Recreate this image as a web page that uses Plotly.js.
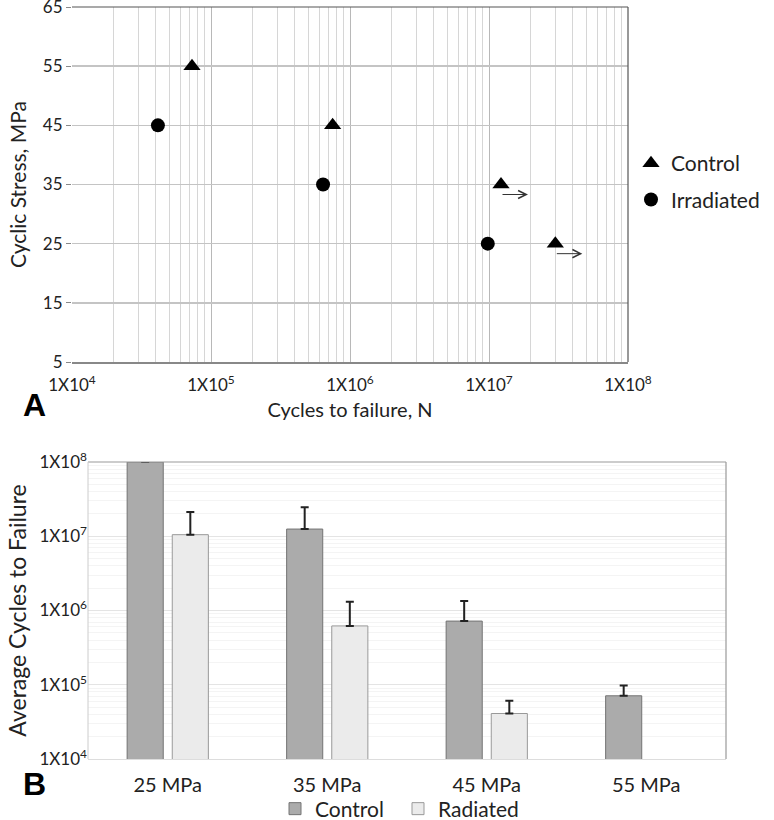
<!DOCTYPE html>
<html><head><meta charset="utf-8">
<script src="https://cdn.plot.ly/plotly-3.0.1.min.js"></script>
<style>html,body{margin:0;padding:0;background:#fff}</style>
</head><body><div id="chart" style="width:774px;height:820px"></div>
<script>
// ---- Panel A data ----
const controlCycles = [7.3e4, 7.5e5, 1.22e7, 3.0e7];
const controlStress = [55, 45, 35, 25];
const controlRunout = [false, false, true, true];
const irradCycles = [4.15e4, 6.4e5, 9.8e6];
const irradStress = [45, 35, 25];
const stressTicks = [5, 15, 25, 35, 45, 55, 65];
// ---- Panel B data ----
const stressCategories = ['25 MPa', '35 MPa', '45 MPa', '55 MPa'];
const controlAvg = [1e8, 1.25e7, 7.2e5, 7.1e4];
const controlErr = [null, 1.2e7, 6.2e5, 2.7e4];
const radiatedAvg = [1.05e7, 6.2e5, 4.1e4, null];
const radiatedErr = [1.07e7, 6.9e5, 2.0e4, null];
// ---- tick labels ----
const decadeVals = [1e4, 1e5, 1e6, 1e7, 1e8];
const decadeLabels = ['1X10<sup>4</sup>', '1X10<sup>5</sup>', '1X10<sup>6</sup>', '1X10<sup>7</sup>', '1X10<sup>8</sup>'];

const FONT = 'Lato, "Open Sans", sans-serif';
const TXT = '#222';

const traces = [
  {type: 'scatter', mode: 'markers', name: 'Control', x: controlCycles, y: controlStress,
   xaxis: 'x', yaxis: 'y', legend: 'legend', legendgroup: 'c',
   marker: {symbol: 'triangle-up', size: 15, color: '#000'}},
  {type: 'scatter', mode: 'markers', name: 'Irradiated', x: irradCycles, y: irradStress,
   xaxis: 'x', yaxis: 'y', legend: 'legend', legendgroup: 'i',
   marker: {symbol: 'circle', size: 14, color: '#000'}},
  {type: 'bar', name: 'Control', x: stressCategories, y: controlAvg,
   xaxis: 'x2', yaxis: 'y2', legend: 'legend2',
   marker: {color: '#ababab', line: {color: '#747474', width: 1}},
   error_y: {type: 'data', symmetric: false, array: controlErr, arrayminus: controlErr.map(() => 0),
             color: '#222', thickness: 2, width: 4}},
  {type: 'bar', name: 'Radiated', x: stressCategories, y: radiatedAvg,
   xaxis: 'x2', yaxis: 'y2', legend: 'legend2',
   marker: {color: '#ebebeb', line: {color: '#999', width: 1}},
   error_y: {type: 'data', symmetric: false, array: radiatedErr, arrayminus: radiatedErr.map(() => 0),
             color: '#222', thickness: 2, width: 4}}
];

const annotations = [];
controlCycles.forEach((c, i) => {
  if (controlRunout[i]) {
    annotations.push({x: Math.log10(c), y: controlStress[i], xref: 'x', yref: 'y',
      text: '', showarrow: true, ax: -27, ay: 0, axref: 'pixel', ayref: 'pixel',
      xshift: 27, yshift: -10, arrowhead: 5, arrowsize: 1.6, arrowwidth: 1, arrowcolor: '#333'});
  }
});
annotations.push({text: '<b>A</b>', xref: 'paper', yref: 'paper', x: 21 / 774, y: 1 - 405 / 820,
  showarrow: false, font: {family: '"Liberation Sans", Arial, sans-serif', size: 32, color: '#000'}});
annotations.push({text: '<b>B</b>', xref: 'paper', yref: 'paper', x: 21 / 774, y: 1 - 804 / 820,
  showarrow: false, font: {family: '"Liberation Sans", Arial, sans-serif', size: 32, color: '#000'}});

const shapes = [
  {type: 'line', xref: 'x domain', yref: 'y domain', x0: 0, x1: 1, y0: 1, y1: 1, line: {color: '#555', width: 1.2}},
  {type: 'line', xref: 'x domain', yref: 'y domain', x0: 1, x1: 1, y0: 0, y1: 1, line: {color: '#555', width: 1.2}},
  {type: 'line', xref: 'x2 domain', yref: 'y2 domain', x0: 0, x1: 1, y0: 1, y1: 1, line: {color: '#999', width: 1.2}},
  {type: 'line', xref: 'x2 domain', yref: 'y2 domain', x0: 1, x1: 1, y0: 0, y1: 1, line: {color: '#999', width: 1.2}},
  {type: 'line', xref: 'x2 domain', yref: 'y2 domain', x0: 0, x1: 0, y0: 0, y1: 1, line: {color: '#ccc', width: 1}}
];

const layout = {
  width: 774, height: 820,
  margin: {l: 0, r: 0, t: 0, b: 0, autoexpand: false},
  paper_bgcolor: '#fff', plot_bgcolor: '#fff',
  font: {family: FONT, color: TXT, size: 16},
  bargap: 0.434, bargroupgap: 0.2, barmode: 'group',
  xaxis: {domain: [72 / 774, 628 / 774], anchor: 'y', type: 'log', range: [4, 8],
    tickmode: 'array', tickvals: decadeVals, ticktext: decadeLabels,
    showgrid: true, gridcolor: '#b8b8b8', gridwidth: 1,
    minor: {dtick: 'D1', showgrid: true, gridcolor: '#d6d6d6', gridwidth: 1, ticks: ''},
    showline: true, linecolor: '#888', linewidth: 2, ticks: '', zeroline: false,
    ticklabelstandoff: 7, ticklabeloverflow: 'allow',
    tickfont: {size: 17, color: TXT},
    title: {text: 'Cycles to failure, N', font: {size: 20, color: TXT}, standoff: 9}},
  yaxis: {domain: [1 - 362 / 820, 1 - 7 / 820], anchor: 'x', range: [5, 65],
    tickmode: 'array', tickvals: stressTicks, ticklabeloverflow: 'allow',
    showgrid: true, gridcolor: '#c4c4c4', gridwidth: 1.5,
    showline: false, ticks: 'outside', ticklen: 5, tickcolor: '#888', zeroline: false,
    tickfont: {size: 17, color: TXT},
    title: {text: 'Cyclic Stress, MPa', font: {size: 21, color: TXT}, standoff: 10}},
  xaxis2: {domain: [88 / 774, 726 / 774], anchor: 'y2', type: 'category',
    range: [-0.5, 3.5], showgrid: false, showline: true, linecolor: '#ddd', linewidth: 1,
    ticks: '', ticklabelstandoff: 8, tickfont: {size: 20, color: TXT}},
  yaxis2: {domain: [1 - 759 / 820, 1 - 462 / 820], anchor: 'x2', type: 'log', range: [4, 8],
    tickmode: 'array', tickvals: decadeVals, ticktext: decadeLabels, ticklabeloverflow: 'allow',
    showgrid: true, gridcolor: '#e4e4e4', gridwidth: 1,
    minor: {dtick: 'D1', showgrid: true, gridcolor: '#f4f4f4', gridwidth: 1, ticks: ''},
    showline: false, ticks: '', zeroline: false,
    tickfont: {size: 17, color: TXT},
    title: {text: 'Average Cycles to Failure', font: {size: 23, color: TXT}, standoff: 6}},
  legend: {x: 631 / 774, xanchor: 'left', y: 1 - 143 / 820, yanchor: 'top',
    orientation: 'v', traceorder: 'grouped', tracegroupgap: 6,
    font: {size: 21, color: TXT}, bgcolor: 'rgba(0,0,0,0)'},
  legend2: {x: 275 / 774, xanchor: 'left', y: 1 - 809 / 820, yanchor: 'middle',
    orientation: 'h', entrywidth: 78, font: {size: 21, color: TXT}, bgcolor: 'rgba(0,0,0,0)'},
  annotations: annotations,
  shapes: shapes,
  showlegend: true
};

Plotly.newPlot('chart', traces, layout, {displayModeBar: false, staticPlot: true});
</script></body></html>
